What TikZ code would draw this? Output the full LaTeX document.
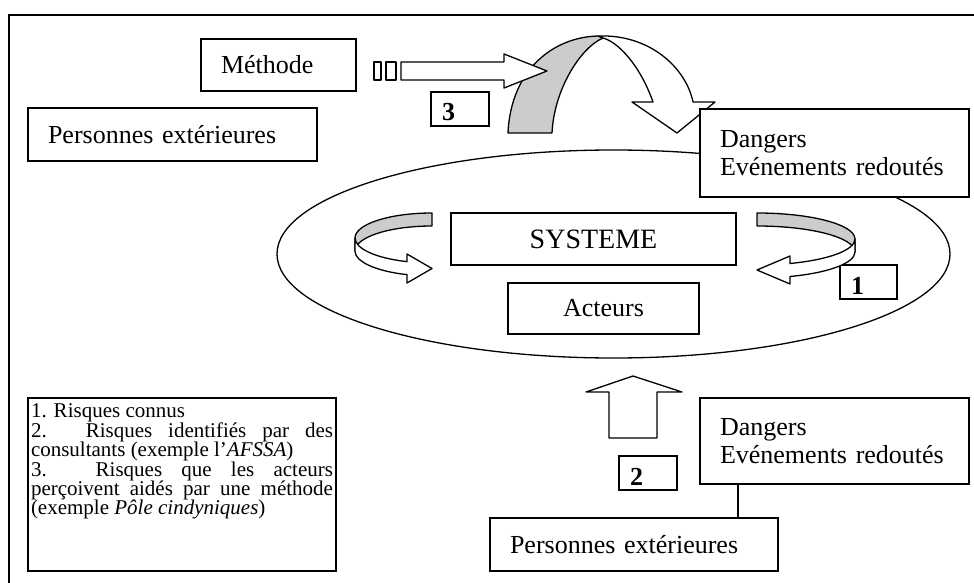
\documentclass[tikz,border=0pt]{standalone}
\usepackage{fontspec}
\setmainfont{Liberation Serif}
\usetikzlibrary{shapes.geometric}
\definecolor{bandgrey}{RGB}{204,204,204}
\begin{document}
\begin{tikzpicture}[x=1pt,y=-1pt,
  txtbox/.style={draw, fill=white, line width=1.6pt, inner xsep=20pt, inner ysep=0pt,
    align=left, font=\fontsize{26}{28}\selectfont},
  ctrbox/.style={draw, fill=white, line width=1.6pt, inner sep=0pt, align=center},
  numbox/.style={draw, fill=white, line width=1.6pt, inner xsep=11pt, inner ysep=0pt,
    align=left, minimum height=34pt, text height=24pt, text depth=0pt,
    font=\fontsize{26}{26}\selectfont\bfseries},
  ribbon/.style={draw, line width=1.3pt, line join=round},
]
\useasboundingbox (0,0) rectangle (974,583);
\clip (0,0) rectangle (974,583);

% outer frame (only its top and left edges fall inside the page)
\draw[line width=2pt] (9,600) -- (9,15) -- (990,15);

% the system field
\node[draw, ellipse, line width=1.3pt, inner sep=0pt,
      minimum width=673pt, minimum height=208pt] (field) at (613.5,254) {};

% arch arrow over the system (back face grey, front face white)
\filldraw[ribbon, fill=bandgrey] (508,133) .. controls (511,68) and (555,37) .. (598,36)
  -- (603,38) .. controls (580,48) and (554,90) .. (552,133) -- cycle;
\filldraw[ribbon, fill=white] (598,36) .. controls (650,34) and (686,68) .. (693,102)
  -- (715,102) -- (677,133) -- (632,102) -- (653,102)
  .. controls (640,65) and (618,42) .. (603,38) -- cycle;

% straight block arrow from the method
\filldraw[ribbon, fill=white] (374,62) rectangle (381,80);
\filldraw[ribbon, fill=white] (386,62) rectangle (396,80);
\filldraw[ribbon, fill=white] (401,62) -- (504,62) -- (504,54) -- (547,71)
  -- (504,88) -- (504,80) -- (401,80) -- cycle;

% boxes
\node[txtbox, text width=115pt, minimum height=52pt] (meth) at (278.5,65) {Méthode};
\node[txtbox, text width=249pt, minimum height=53pt] (persA) at (172.5,134.5) {Personnes extérieures};
\node[txtbox, text width=229pt, minimum height=88pt] (dangA) at (834.5,153) {Dangers\\Evénements redoutés};
\node[ctrbox, minimum width=285pt, minimum height=52pt, font=\fontsize{28}{30}\selectfont] (sys) at (593.5,239) {SYSTEME};
\node[ctrbox, minimum width=191pt, minimum height=51pt, font=\fontsize{26}{26}\selectfont] (act) at (603.5,308.5) {Acteurs};
\node[txtbox, text width=229pt, minimum height=86pt] (dangB) at (834.5,441) {Dangers\\Evénements redoutés};
\node[txtbox, text width=248pt, minimum height=53pt] (persB) at (634,544.5) {Personnes extérieures};

\node[numbox, text width=36pt] (n3) at (460,109) {3};
\node[numbox, text width=35pt] (n1) at (868.5,282) {1};
\node[numbox, text width=36pt] (n2) at (648,473) {2};

% legend
\node[draw, fill=white, line width=1.6pt, inner sep=0pt, minimum width=308pt,
      minimum height=173pt, font=\fontsize{21}{19.4}\selectfont] (legend) at (182,484.5)
  {\parbox[c][161pt][t]{302pt}{%
    1. Risques connus\par
    2. Risques identifiés par des\linebreak consultants (exemple l’\textit{AFSSA})\par
    3. Risques que les acteurs\linebreak perçoivent aidés par une méthode\linebreak
    (exemple \textit{Pôle cindyniques})}};

% link between the lower boxes
\draw[line width=1.6pt] ([xshift=39pt]dangB.south west) -- ([xshift=39pt]dangB.south west |- persB.north);

% looping arrows around the system
\filldraw[ribbon, fill=bandgrey] (432,213) arc[start angle=270, end angle=180, x radius=77, y radius=25]
  -- ++(0,13) arc[start angle=180, end angle=270, x radius=77, y radius=25] -- cycle;
\filldraw[ribbon, fill=white] (355,238) arc[start angle=180, end angle=108.9, x radius=77, y radius=25]
  -- (407,254) -- (432,268.5) -- (407,283) -- (407,274.65)
  arc[start angle=108.9, end angle=180, x radius=77, y radius=25] -- cycle;

\filldraw[ribbon, fill=bandgrey] (757,213) arc[start angle=270, end angle=360, x radius=98, y radius=26]
  -- ++(0,13) arc[start angle=360, end angle=270, x radius=98, y radius=26] -- cycle;
\filldraw[ribbon, fill=white] (855,239) arc[start angle=0, end angle=70.3, x radius=98, y radius=26]
  -- (790,256) -- (757,270) -- (790,284) -- (790,276.5)
  arc[start angle=70.3, end angle=0, x radius=98, y radius=26] -- cycle;

% upward block arrow
\filldraw[ribbon, fill=white] (609,438) -- (609,392) -- (586,392) -- (633,376)
  -- (682,392) -- (657,392) -- (657,438) -- cycle;
\end{tikzpicture}
\end{document}
